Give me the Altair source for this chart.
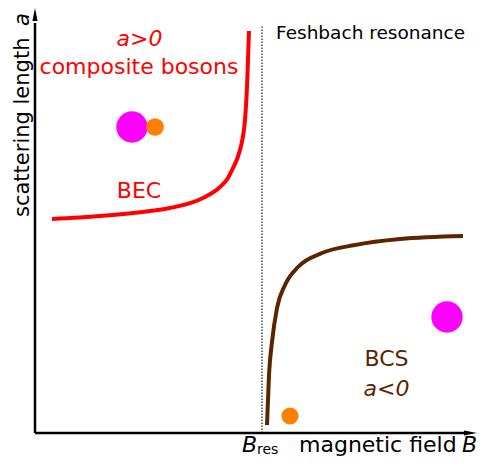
import altair as alt
import pandas as pd

# BEC branch (red): x = magnetic field, y = scattering length
bec_B = [3.4, 13, 23, 27, 33.6, 37, 38.6, 39.6, 40.5, 41.2, 41.7, 42, 42.4, 42.8]
bec_a = [42.8, 43.4, 44.4, 45, 47, 49.2, 51.0, 53.0, 55.0, 57.4, 60.0, 62.6, 69.2, 80.4]

# BCS branch (brown)
bcs_B = [46.4, 46.8, 47.4, 48.4, 50, 52.6, 57.4, 64, 73, 85.6]
bcs_a = [1.6, 11.6, 18.2, 25, 29.6, 33.2, 36, 37.6, 38.8, 39.4]

B_res = 45.4
res_top = 81.6

# particles
part_x = [19.4, 24.0, 82.4, 51.0]
part_y = [61.2, 61.2, 23.2, 3.4]
part_r = [17.7, 10.0, 17.7, 9.7]
part_c = ["#ff00ff", "#ff8000", "#ff00ff", "#ff8000"]

FONT = "DejaVu Sans"
RED = "#ff0000"
BROWN = "#5a2500"

xs = alt.Scale(domain=[-5.4, 88.6], nice=False, zero=False)
ys = alt.Scale(domain=[-5, 85], nice=False, zero=False)

def X(f="x"):
    return alt.X(f"{f}:Q", scale=xs, axis=None)

def Y(f="y"):
    return alt.Y(f"{f}:Q", scale=ys, axis=None)

bec = pd.DataFrame({"x": bec_B, "y": bec_a, "o": range(len(bec_B))})
bcs = pd.DataFrame({"x": bcs_B, "y": bcs_a, "o": range(len(bcs_B))})

bec_line = alt.Chart(bec).mark_line(color=RED, strokeWidth=4, interpolate="monotone").encode(
    x=X(), y=Y(), order="o:Q")
bcs_line = alt.Chart(bcs).mark_line(color=BROWN, strokeWidth=4, interpolate="monotone").encode(
    x=X(), y=Y(), order="o:Q")

res = alt.Chart(pd.DataFrame({"x": [B_res], "y": [0], "y2": [res_top]})).mark_rule(
    color="#222222", strokeWidth=1.2, strokeDash=[1.5, 1.5]).encode(x=X(), y=Y(), y2="y2:Q")

parts = pd.DataFrame({"x": part_x, "y": part_y,
                      "s": [3.14159 * r * r for r in part_r], "c": part_c})
circles = alt.Chart(parts).mark_circle(opacity=1).encode(
    x=X(), y=Y(), size=alt.Size("s:Q", scale=None, legend=None),
    color=alt.Color("c:N", scale=None, legend=None))

# axes with arrows
yaxis = alt.Chart(pd.DataFrame({"x": [0], "y": [0], "y2": [82]})).mark_rule(
    color="black", strokeWidth=2.5).encode(x=X(), y=Y(), y2="y2:Q")
xaxis = alt.Chart(pd.DataFrame({"x": [0], "x2": [86.5], "y": [0]})).mark_rule(
    color="black", strokeWidth=2.5).encode(x=X(), x2="x2:Q", y=Y())
up = alt.Chart(pd.DataFrame({"x": [0], "y": [83.7]})).mark_point(
    shape="M0,-1L0.4,1L-0.4,1Z", size=169, filled=True, color="black", opacity=1).encode(x=X(), y=Y())
right = alt.Chart(pd.DataFrame({"x": [87.1], "y": [0]})).mark_point(
    shape="M1,0L-1,0.4L-1,-0.4Z", size=169, filled=True, color="black", opacity=1).encode(x=X(), y=Y())

def txt(df, **kw):
    base = dict(font=FONT, baseline="middle", align="center")
    base.update(kw)
    return alt.Chart(pd.DataFrame(df)).mark_text(**base).encode(
        x=X(), y=Y(), text="t:N")

texts = [
    txt({"x": [20.9], "y": [78.9], "t": ["a>0"]}, color=RED, fontSize=22, fontStyle="italic"),
    txt({"x": [20.8], "y": [73.2], "t": ["composite bosons"]}, color=RED, fontSize=22),
    txt({"x": [20.8], "y": [48.4], "t": ["BEC"]}, color=RED, fontSize=22),
    txt({"x": [48.2], "y": [80.0], "t": ["Feshbach resonance"]}, color="black", fontSize=18.5, align="left"),
    txt({"x": [70.3], "y": [14.8], "t": ["BCS"]}, color=BROWN, fontSize=22),
    txt({"x": [70.3], "y": [8.9], "t": ["a<0"]}, color=BROWN, fontSize=22, fontStyle="italic"),
    txt({"x": [52.8], "y": [-3.8], "t": ["magnetic field"]}, color="black", fontSize=22, align="left", baseline="alphabetic"),
    txt({"x": [88.4], "y": [-3.8], "t": ["B"]}, color="black", fontSize=22, align="right", baseline="alphabetic", fontStyle="italic"),
    txt({"x": [41.4], "y": [-3.8], "t": ["B"]}, color="black", fontSize=22, align="left", baseline="alphabetic", fontStyle="italic"),
    txt({"x": [44.4], "y": [-4.2], "t": ["res"]}, color="black", fontSize=14, align="left", baseline="alphabetic"),
    txt({"x": [-2.5], "y": [43.2], "t": ["scattering length"]}, color="black", fontSize=21, align="left", angle=270),
    txt({"x": [-2.5], "y": [84.0], "t": ["a"]}, color="black", fontSize=21, align="right", angle=270, fontStyle="italic"),
]

chart = alt.layer(res, bec_line, bcs_line, circles, yaxis, xaxis, up, right, *texts).properties(
    width=470, height=450,
    autosize=alt.AutoSizeParams(type="none"),
    padding=0,
).configure_view(stroke=None)

chart.save("out.html", embed_options={"renderer": "svg", "actions": False})
